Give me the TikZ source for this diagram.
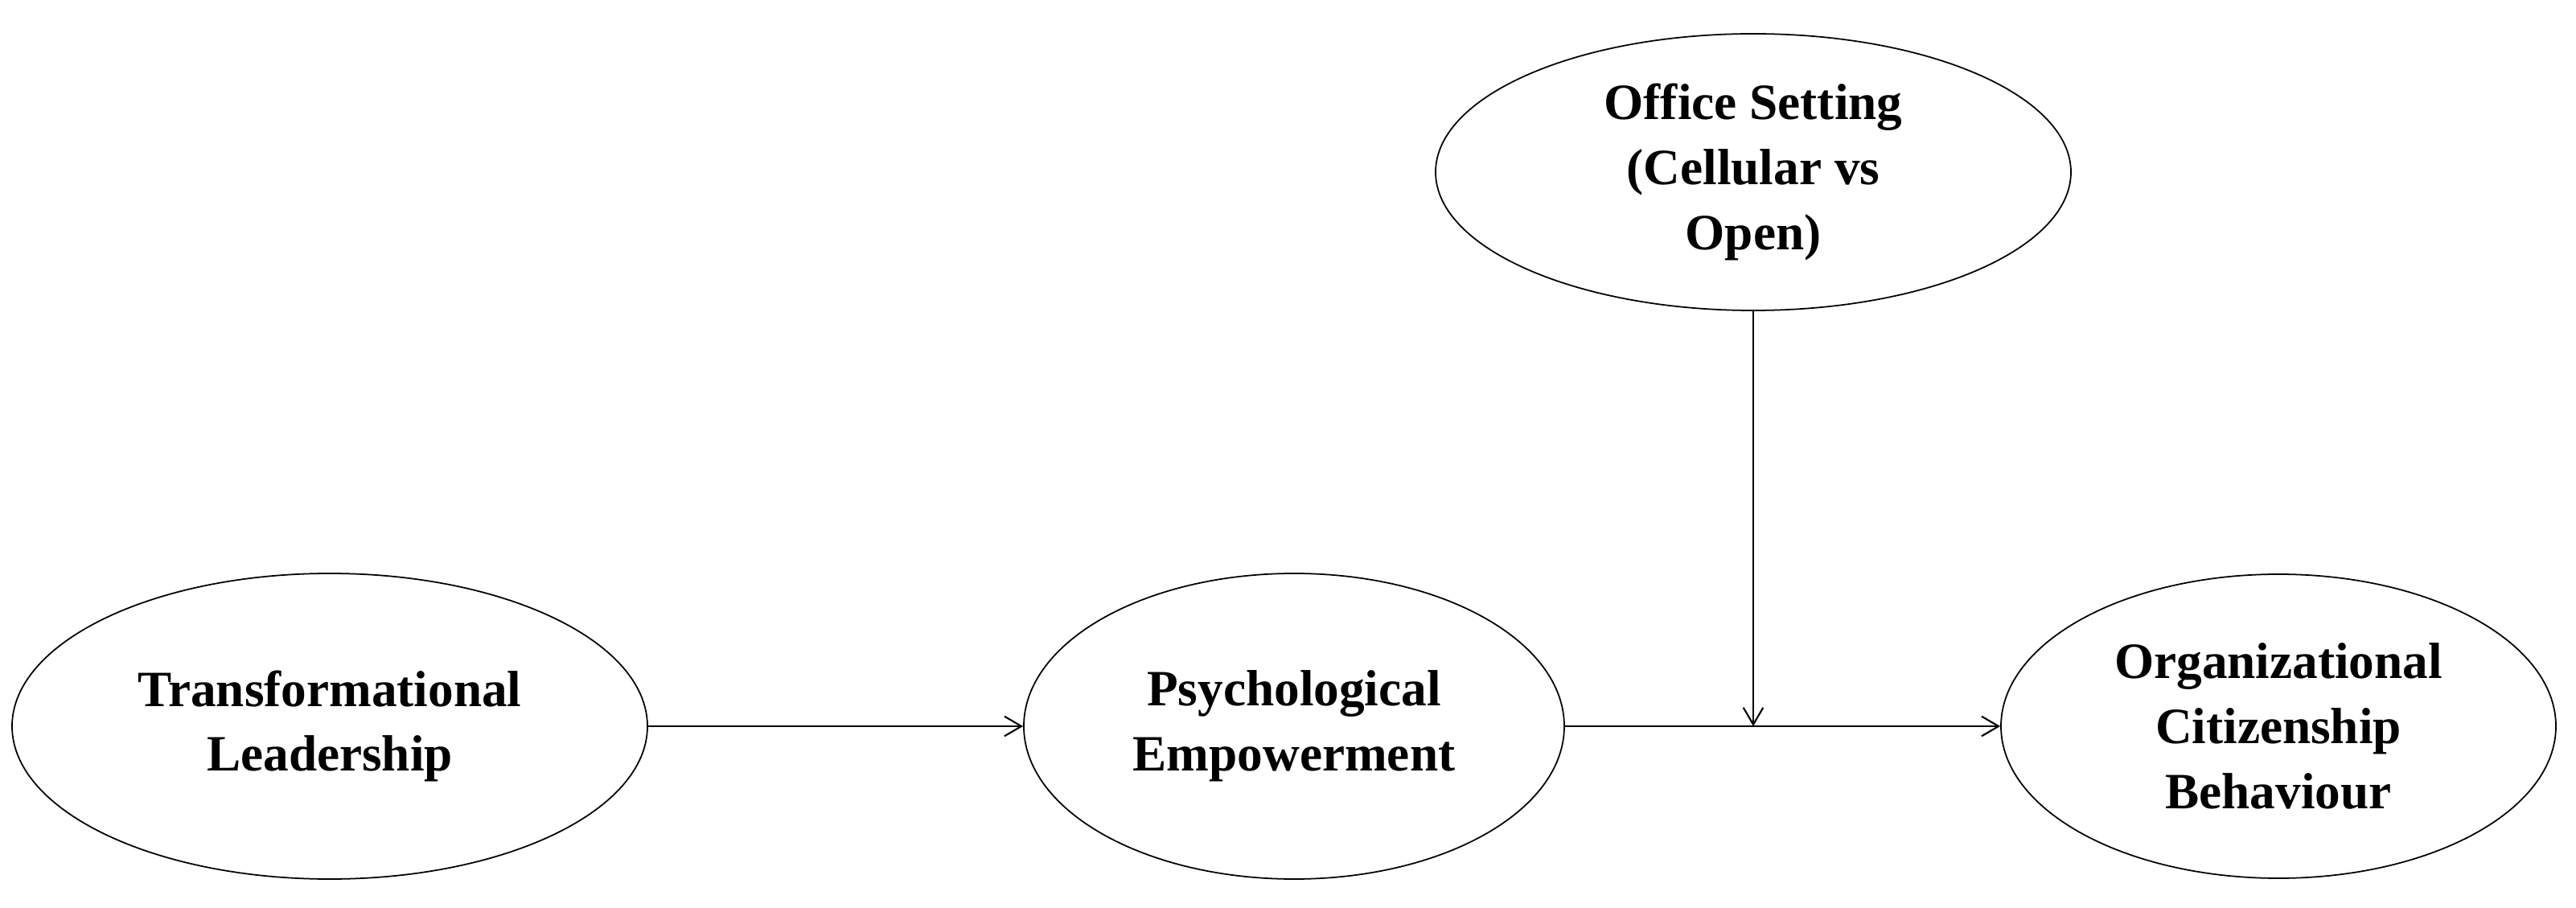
\documentclass[tikz,border=0pt]{standalone}
\usepackage{fontspec}
\setmainfont{Liberation Serif}
\usetikzlibrary{shapes.geometric,arrows.meta}

\begin{document}
\begin{tikzpicture}[
  var/.style={ellipse,draw,line width=0.5pt,inner sep=0pt,align=center,
    font=\fontsize{18}{23}\selectfont\bfseries},
  >={Straight Barb[length=6pt,width=7pt]}
]
\useasboundingbox (0,0) rectangle (32.03,11.28);
\def \y{2.25}

\node [var,minimum width=7.9cm,minimum height=3.8cm] (tl) at (4.10,\y) {Transformational\\Leadership};
\node [var,minimum width=6.72cm,minimum height=3.8cm] (pe) at (16.09,\y) {Psychological\\Empowerment};
\node [var,minimum width=6.9cm,minimum height=3.78cm] (ocb) at (28.33,\y) {Organizational\\Citizenship\\Behaviour};
\node [var,minimum width=7.9cm,minimum height=3.44cm] (office) at (21.80,9.14) {Office Setting\\(Cellular vs\\Open)};

\coordinate (mod) at (office |- pe);

\draw[->,line width=0.6pt] (tl) -- (pe);
\draw[->,line width=0.6pt] (pe) -- (ocb);
\draw[->,line width=0.6pt] (office) -- (mod);

\end{tikzpicture}
\end{document}
